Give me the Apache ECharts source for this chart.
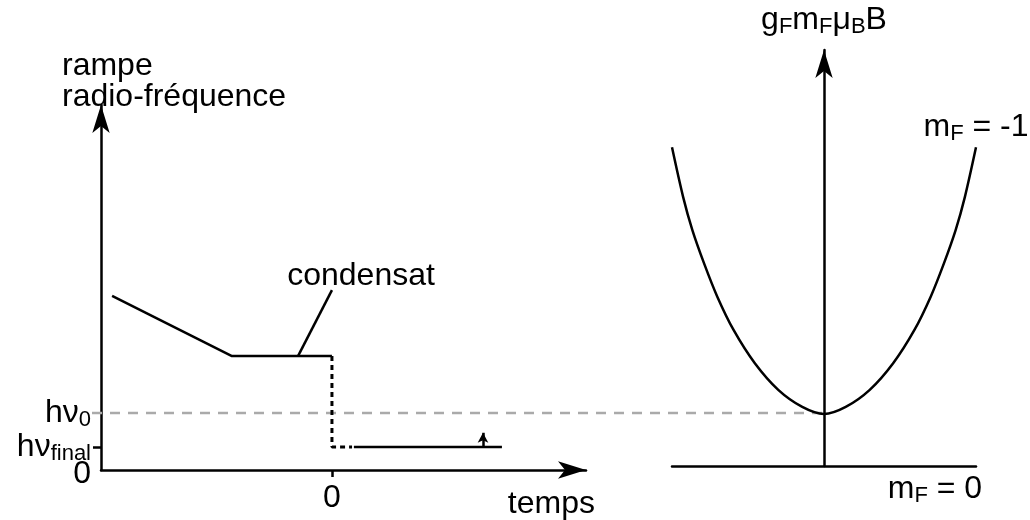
<!DOCTYPE html>
<html><head><meta charset="utf-8">
<script src="https://cdn.jsdelivr.net/npm/echarts@6/dist/echarts.min.js"></script>
<style>html,body{margin:0;padding:0;background:#fff}#c{width:1030px;height:520px}</style>
</head><body><div id="c"></div>
<script>
// ---- left panel: radio-frequency ramp vs time ----
const rampX = [-9.52, -4.33, 0];
const rampY = [4.77, 3.12, 3.12];
const jumpX = [0, 0, 0.87];
const jumpY = [3.12, 0.63, 0.63];
const finalX = [0.95, 7.36];
const finalY = [0.63, 0.63];
const pointerX = [-1.47, 0];
const pointerY = [3.12, 4.93];
const nudgeX = 6.54;
const nudgeY = [0.63, 1.02];
const hv0Level = 1.56;
const hvFinalLevel = 0.63;
const refLineX = [-10.39, 21.3];
const timeTickValues = [0];
const timeTickLabels = ['0'];
const levelTickValues = [0, 1.56];
const levelTickLabels = ['{z|0}', '{m|hν}{s|0}'];
const finalTickLabel = '{m|hν}{s|final}';
const condensatPos = [1.26, 5.32];
// ---- right panel: Zeeman energy vs position ----
const fieldX  = [-1.0, -0.927, -0.866, -0.789, -0.702, -0.595, -0.455, -0.301, -0.143, 0, 0.143, 0.301, 0.455, 0.595, 0.702, 0.789, 0.866, 0.927, 1.0];
const energyY = [7.66, 6.47, 5.67, 4.87, 4.07, 3.27, 2.47, 1.83, 1.42, 1.25, 1.42, 1.83, 2.47, 3.27, 4.07, 4.87, 5.67, 6.47, 7.66];
const mFm1Pos = [1.0, 8.15];
const mF0Pos = [0.73, -0.56];

const FONT = 'Liberation Sans, Arial, Helvetica, sans-serif';
const BLACK = '#000';
const LW = 2.5;
const FS = 32;
const rich = {
  m: {fontSize: FS, lineHeight: 36, fontFamily: FONT, color: BLACK},
  s: {fontSize: 22, lineHeight: 22, verticalAlign: 'bottom', fontFamily: FONT, color: BLACK},
  z: {fontSize: FS, lineHeight: 36, padding: [9, 0, 0, 0], fontFamily: FONT, color: BLACK}
};
const zip = (xs, ys) => xs.map((x, i) => [x, ys[i]]);
const arrowLine = {symbol: ['none', 'arrow'], symbolSize: [13, 28], lineStyle: {color: BLACK, width: LW}};
const hidden = {show: false};
const pick = (vals, labels) => v => {
  for (let i = 0; i < vals.length; i++) if (Math.abs(v - vals[i]) < 1e-6) return labels[i];
  return '';
};

const chart = echarts.init(document.getElementById('c'), null, {renderer: 'canvas'});
const option = {
  animation: false,
  backgroundColor: '#fff',
  textStyle: {fontFamily: FONT, color: BLACK},
  title: {
    text: 'rampe\nradio-fréquence', left: 62, top: 51, padding: 0,
    textStyle: {fontSize: FS, fontWeight: 'normal', lineHeight: 31, color: BLACK, fontFamily: FONT}
  },
  grid: [
    {left: 101, top: 105, width: 485, height: 365},
    {left: 672, top: 50, width: 304, height: 416},
    {left: 92, top: 105, width: 732, height: 365}
  ],
  xAxis: [
    {
      gridIndex: 0, type: 'value', min: -10, max: 11,
      axisLine: Object.assign({onZero: false}, arrowLine),
      axisTick: {show: true, customValues: timeTickValues, length: 7, lineStyle: {color: BLACK, width: LW}},
      axisLabel: {customValues: timeTickValues, formatter: pick(timeTickValues, timeTickLabels), margin: 12, fontSize: FS, color: BLACK, fontFamily: FONT},
      splitLine: {show: false},
      name: 'temps', nameLocation: 'end', nameGap: 9,
      nameTextStyle: {fontSize: FS, align: 'right', verticalAlign: 'top', padding: [18, 0, 0, 0], color: BLACK, fontFamily: FONT}
    },
    {
      gridIndex: 1, type: 'value', min: -1, max: 1,
      axisLine: {onZero: false, lineStyle: {color: BLACK, width: LW}},
      axisTick: hidden, axisLabel: hidden, splitLine: hidden
    },
    {
      gridIndex: 2, type: 'value', min: refLineX[0], max: refLineX[1], show: false
    }
  ],
  yAxis: [
    {
      gridIndex: 0, type: 'value', min: 0, max: 10, position: 'left', offset: 0,
      axisLine: Object.assign({onZero: false}, arrowLine),
      axisTick: hidden,
      axisLabel: {
        customValues: levelTickValues, margin: 10, fontSize: FS, color: BLACK, fontFamily: FONT, rich: rich,
        showMinLabel: true, showMaxLabel: true, formatter: pick(levelTickValues, levelTickLabels)
      },
      splitLine: hidden
    },
    {
      gridIndex: 1, type: 'value', min: 0, max: 10,
      axisLine: Object.assign({onZero: true}, arrowLine),
      axisTick: hidden, axisLabel: hidden, splitLine: hidden,
      name: '{m|g}{s|F}{m|m}{s|F}{m|μ}{s|B}{m|B}', nameLocation: 'end', nameGap: 12,
      nameTextStyle: {rich: rich, align: 'center', verticalAlign: 'bottom'}
    },
    {
      gridIndex: 2, type: 'value', min: 0, max: 10, show: false
    },
    {
      gridIndex: 0, type: 'value', min: 0, max: 10, position: 'left', offset: 0,
      axisLine: {show: false, onZero: false},
      axisTick: {show: true, customValues: [hvFinalLevel], length: 8, lineStyle: {color: BLACK, width: LW}},
      axisLabel: {
        customValues: [hvFinalLevel], margin: 10, fontSize: FS, color: BLACK, fontFamily: FONT, rich: rich,
        showMinLabel: true, showMaxLabel: true, formatter: () => finalTickLabel
      },
      splitLine: hidden
    }
  ],
  series: [
    {
      type: 'line', xAxisIndex: 2, yAxisIndex: 2, z: 1,
      data: [[refLineX[0], hv0Level], [refLineX[1], hv0Level]],
      symbol: 'none', lineStyle: {color: '#aaaaaa', width: LW, type: [10, 8]}, silent: true
    },
    {
      type: 'line', xAxisIndex: 0, yAxisIndex: 0, data: zip(rampX, rampY),
      symbol: 'none', lineStyle: {color: BLACK, width: LW}, silent: true
    },
    {
      type: 'line', xAxisIndex: 0, yAxisIndex: 0, data: zip(jumpX, jumpY),
      symbol: 'none', lineStyle: {color: BLACK, width: 3, type: [5, 4]}, silent: true
    },
    {
      type: 'line', xAxisIndex: 0, yAxisIndex: 0, data: zip(finalX, finalY),
      symbol: 'none', lineStyle: {color: BLACK, width: LW}, silent: true,
      markLine: {
        silent: true, symbol: ['none', 'arrow'], symbolSize: [8, 10], label: {show: false},
        lineStyle: {color: BLACK, width: LW, type: 'solid'},
        data: [[{coord: [nudgeX, nudgeY[0]]}, {coord: [nudgeX, nudgeY[1]]}]]
      }
    },
    {
      type: 'line', xAxisIndex: 0, yAxisIndex: 0, data: zip(pointerX, pointerY),
      symbol: 'none', lineStyle: {color: BLACK, width: LW}, silent: true
    },
    {
      type: 'scatter', xAxisIndex: 0, yAxisIndex: 0, clip: false, symbolSize: 0.1,
      itemStyle: {color: 'transparent', opacity: 1}, silent: true,
      data: [{value: condensatPos, name: 'condensat'}],
      label: {show: true, position: 'inside', formatter: '{b}', fontSize: FS, color: BLACK, fontFamily: FONT, opacity: 1, textBorderWidth: 0}
    },
    {
      type: 'line', xAxisIndex: 1, yAxisIndex: 1, data: zip(fieldX, energyY), smooth: 0.3,
      symbol: 'none', lineStyle: {color: BLACK, width: LW}, silent: true, z: 3
    },
    {
      type: 'scatter', xAxisIndex: 1, yAxisIndex: 1, clip: false, symbolSize: 0.1,
      itemStyle: {color: 'transparent', opacity: 1}, silent: true,
      data: [
        {value: mFm1Pos, name: '{m|m}{s|F}{m| = -1}'},
        {value: mF0Pos, name: '{m|m}{s|F}{m| = 0}'}
      ],
      label: {show: true, position: 'inside', formatter: '{b}', rich: rich, opacity: 1, textBorderWidth: 0}
    }
  ]
};
chart.setOption(option);
</script></body></html>
